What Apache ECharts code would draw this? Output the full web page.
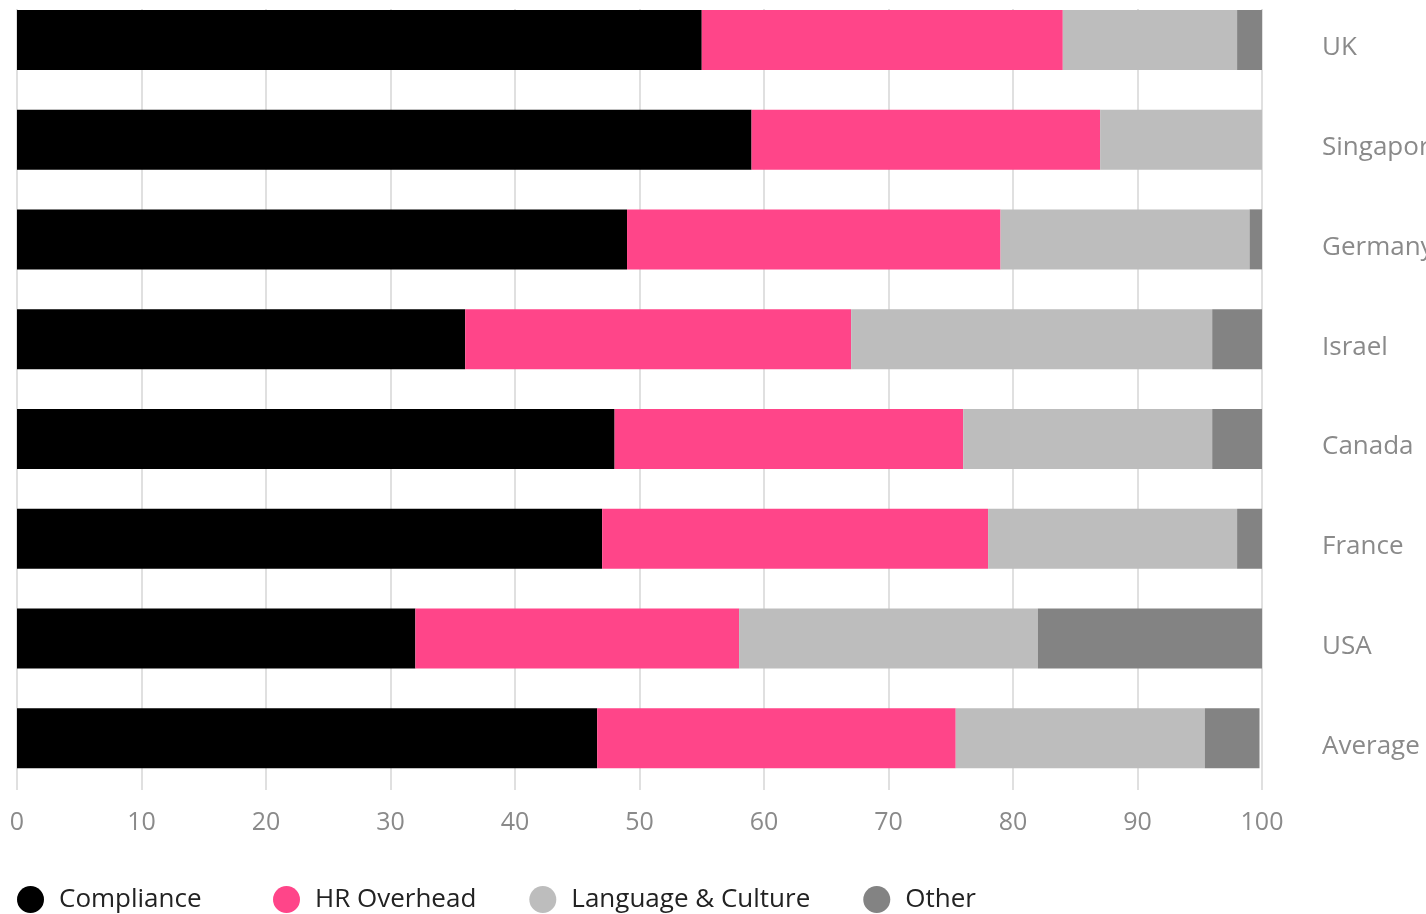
<!DOCTYPE html>
<html>
<head>
<meta charset="utf-8">
<script src="https://cdn.jsdelivr.net/npm/echarts@6/dist/echarts.min.js"></script>
<style>
html,body{margin:0;padding:0;background:#fff;}
#chart{width:1426px;height:914px;}
</style>
</head>
<body>
<div id="chart"></div>
<script>
const categories = ["UK", "Singapore", "Germany", "Israel", "Canada", "France", "USA", "Average"];
const compliance = [55, 59, 49, 36, 48, 47, 32, 46.6];
const hrOverhead = [29, 28, 30, 31, 28, 31, 26, 28.8];
const languageCulture = [14, 13, 20, 29, 20, 20, 24, 20.0];
const other = [2, 0, 1, 4, 4, 2, 18, 4.4];
const seriesNames = ["Compliance", "HR Overhead", "Language & Culture", "Other"];
const xTicks = [0, 10, 20, 30, 40, 50, 60, 70, 80, 90, 100];

const colors = ["#000000", "#FF4589", "#BDBDBD", "#838383"];
const font = "'Open Sans', Lato, sans-serif";

const chart = echarts.init(document.getElementById('chart'), null, {renderer: 'canvas'});
const dataSets = [compliance, hrOverhead, languageCulture, other];

const legendBase = {
  top: 881,
  icon: 'circle',
  itemWidth: 27, itemHeight: 27,
  itemGap: 53,
  textStyle: {fontFamily: font, fontSize: 26, color: '#222', padding: [0, 0, 0, 10]}
};

chart.setOption({
  animation: false,
  color: colors,
  grid: [
    {left: 17, right: 164, top: -10, height: 798, containLabel: false, outerBoundsMode: 'none'},
    {left: 17, right: 164, top: 9, height: 781, containLabel: false, outerBoundsMode: 'none'}
  ],
  legend: [
    Object.assign({}, legendBase, {left: 12, data: seriesNames.slice(0, 1)}),
    Object.assign({}, legendBase, {left: 268, data: seriesNames.slice(1)})
  ],
  xAxis: [
    {type: 'value', gridIndex: 0, min: 0, max: 100, interval: 10,
     axisLabel: {show: false}, axisLine: {show: false}, axisTick: {show: false}, splitLine: {show: false}},
    {type: 'value', gridIndex: 1, min: xTicks[0], max: xTicks[xTicks.length - 1], interval: 10,
     axisLine: {show: false}, axisTick: {show: false},
     axisLabel: {fontFamily: font, fontSize: 25, color: '#8a8a8a', margin: 20},
     splitLine: {show: true, lineStyle: {color: '#e0e0e0', width: 2}}}
  ],
  yAxis: [
    {type: 'category', gridIndex: 0, data: categories, inverse: true, position: 'right',
     axisLine: {show: false}, axisTick: {show: false},
     axisLabel: {margin: 60, align: 'left',
                 formatter: '{v|{value}}',
                 rich: {v: {fontFamily: font, fontSize: 26, color: '#8a8a8a', padding: [16, 0, 0, 0]}}}},
    {type: 'value', gridIndex: 1, show: false, min: 0, max: 1}
  ],
  series: seriesNames.map((name, i) => ({
    name: name,
    type: 'bar',
    stack: 'total',
    xAxisIndex: 0, yAxisIndex: 0,
    barWidth: 60,
    itemStyle: {color: colors[i]},
    data: dataSets[i]
  }))
});
</script>
</body>
</html>
